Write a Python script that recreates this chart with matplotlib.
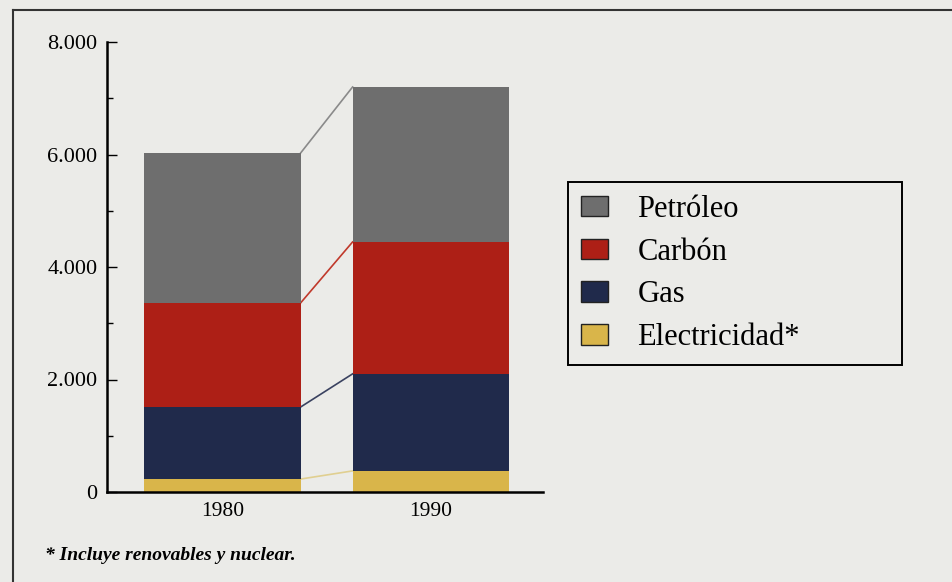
'''
Stacked bar chart of energy
consumption by source, 1980 and 1990
'''

######################################

import numpy as np
import matplotlib.pyplot as plt
from matplotlib.ticker import FuncFormatter, MultipleLocator
from matplotlib.patches import Patch
from matplotlib.lines import Line2D

######################################

# data
years=['1980','1990']
electricidad=[230,375]
gas=[1280,1725]
carbon=[1850,2345]
petroleo=[2665,2755]

labels=['Petróleo','Carbón','Gas','Electricidad*']
colours=['#6e6e6e','#ad1f16','#202a4b','#d9b54a']
lineCols=['#8a8a8a','#c0392b','#3a4260','#e0cf90']
bg='#ebebe8'

######################################

plt.rcParams['font.family']=['Liberation Serif','DejaVu Serif']

fig=plt.figure(figsize=(9.52,5.82),dpi=100)
fig.patch.set_facecolor(bg)
ax=fig.add_axes([107/952,1-492/582,436/952,450/582])
ax.set_facecolor(bg)

# stack the series from the bottom up
x=np.arange(len(years))
width=0.75
series=[electricidad,gas,carbon,petroleo]
cols=colours[::-1]
lcols=lineCols[::-1]
bottom=np.zeros(len(years))
for s,c,lc in zip(series,cols,lcols):
  top=bottom+np.array(s)
  ax.bar(x,s,width,bottom=bottom,color=c,edgecolor='none',zorder=2)
  # connecting line between segment tops
  ax.plot([x[0]+width/2,x[1]-width/2],[top[0],top[1]],color=lc,lw=1.2,zorder=1)
  bottom=top

# axes
ax.set_xlim(-0.555,1.54)
ax.set_ylim(0,8000)
ax.spines['top'].set_visible(False)
ax.spines['right'].set_visible(False)
ax.spines['left'].set_linewidth(1.8)
ax.spines['bottom'].set_linewidth(1.8)
ax.set_xticks(x)
ax.set_xticklabels(years)
ax.yaxis.set_major_locator(MultipleLocator(2000))
ax.yaxis.set_minor_locator(MultipleLocator(1000))
ax.yaxis.set_major_formatter(FuncFormatter(lambda v,p:'{:,.0f}'.format(v).replace(',','.')))
ax.tick_params(axis='y',which='major',direction='in',length=7,width=1,pad=7,labelsize=16)
ax.tick_params(axis='y',which='minor',direction='in',length=4,width=1)
ax.tick_params(axis='x',direction='in',length=6,width=1,pad=7,labelsize=15.5)

# legend
handles=[Patch(facecolor=c,edgecolor='#222222',lw=1.0) for c in colours]
leg=fig.legend(handles,labels,loc='upper left',
  bbox_to_anchor=(568/952,1-182/582-0.1,334/952,0.1),mode='expand',
  fontsize=22,frameon=True,fancybox=False,edgecolor='black',
  facecolor=bg,framealpha=1,handlelength=0.9,handleheight=0.65,
  handletextpad=0.95,labelspacing=0.45,borderpad=0.42,borderaxespad=0)
leg.get_frame().set_linewidth(1.4)

# footnote
fig.text(45/952,1-556/582,'* Incluye renovables y nuclear.',fontsize=14,
  style='italic',weight='bold',va='center',ha='left')

# outer frame lines
fig.add_artist(Line2D([13/952,13/952],[0,1-10/582],color='#333333',lw=1.5))
fig.add_artist(Line2D([13/952,1],[1-10/582,1-10/582],color='#333333',lw=1.5))

fig.savefig('out.png',dpi=100,facecolor=bg)
